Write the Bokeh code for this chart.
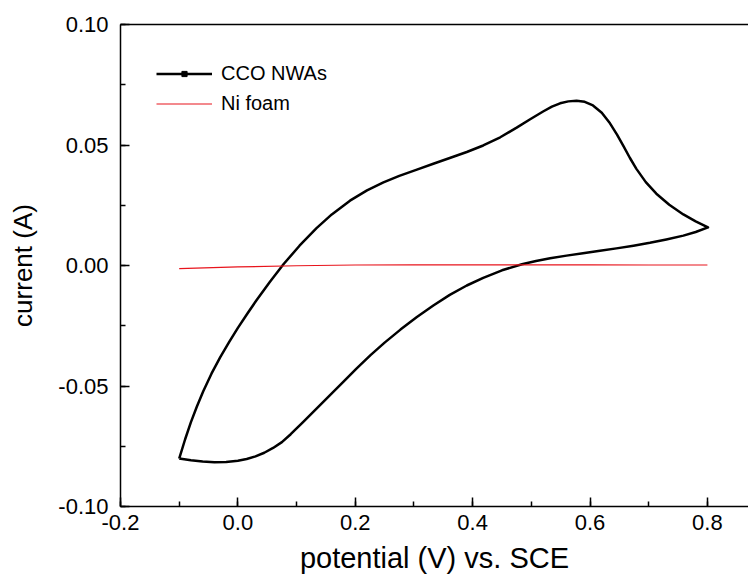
from bokeh.plotting import figure
from bokeh.models import (Range1d, SingleIntervalTicker, FixedTicker, LinearAxis, Legend, LegendItem,
                          ColumnDataSource, NumeralTickFormatter, CDSView, IndexFilter)
from bokeh.embed import file_html
from bokeh.resources import INLINE

# CCO NWAs cyclic voltammogram: forward (anodic) scan, -0.1 V -> 0.8 V
cco_fwd_x = [-0.100, -0.090, -0.080, -0.070, -0.059, -0.045, -0.030, -0.015, 0.000, 0.016, 0.032,
             0.055, 0.078, 0.105, 0.134, 0.160, 0.191, 0.220, 0.248, 0.275, 0.305, 0.333, 0.361,
             0.390, 0.418, 0.447, 0.475, 0.498, 0.520, 0.535, 0.549, 0.563, 0.577, 0.591, 0.605,
             0.620, 0.634, 0.646, 0.657, 0.668, 0.679, 0.695, 0.713, 0.735, 0.759, 0.780, 0.801]
cco_fwd_y = [-0.0801, -0.0722, -0.0650, -0.0586, -0.0522, -0.0449, -0.0380, -0.0318, -0.0259,
             -0.0200, -0.0143, -0.0066, 0.0006, 0.0082, 0.0155, 0.0212, 0.0269, 0.0312, 0.0345,
             0.0372, 0.0398, 0.0422, 0.0446, 0.0471, 0.0498, 0.0532, 0.0572, 0.0607, 0.0639,
             0.0659, 0.0673, 0.0681, 0.0684, 0.0679, 0.0664, 0.0634, 0.0590, 0.0543, 0.0495,
             0.0446, 0.0401, 0.0346, 0.0298, 0.0252, 0.0212, 0.0183, 0.0158]
# reverse (cathodic) scan, 0.8 V -> -0.1 V
cco_rev_x = [0.780, 0.759, 0.730, 0.702, 0.674, 0.645, 0.617, 0.588, 0.560, 0.532, 0.508, 0.484,
             0.450, 0.418, 0.390, 0.361, 0.333, 0.305, 0.277, 0.250, 0.226, 0.202, 0.180, 0.157,
             0.134, 0.111, 0.090, 0.075, 0.060, 0.045, 0.030, 0.015, 0.000, -0.020, -0.040,
             -0.060, -0.080, -0.100]
cco_rev_y = [0.0139, 0.0124, 0.0108, 0.0094, 0.0082, 0.0071, 0.0061, 0.0051, 0.0041, 0.0030,
             0.0019, 0.0005, -0.0020, -0.0051, -0.0083, -0.0122, -0.0166, -0.0214, -0.0266,
             -0.0320, -0.0372, -0.0428, -0.0482, -0.0538, -0.0594, -0.0650, -0.0700, -0.0733,
             -0.0757, -0.0777, -0.0792, -0.0803, -0.0810, -0.0815, -0.0816, -0.0813, -0.0808,
             -0.0801]

# Ni foam
ni_x = [-0.1, 0.0, 0.1, 0.2, 0.3, 0.4, 0.5, 0.6, 0.7, 0.8]
ni_y = [-0.0013, -0.0006, -0.0001, 0.0002, 0.0003, 0.0003, 0.0003, 0.0003, 0.0002, 0.0002]

x_ticks = [-0.2, 0.0, 0.2, 0.4, 0.6, 0.8]
y_ticks = [-0.10, -0.05, 0.00, 0.05, 0.10]

FONT = "Liberation Sans"

p = figure(width=748, height=577, x_range=Range1d(-0.2, 0.870), y_range=Range1d(-0.10, 0.10),
           output_backend="svg", toolbar_location=None,
           min_border_left=120, min_border_right=0, min_border_top=24, min_border_bottom=71)
p.outline_line_color = None
p.xgrid.visible = False
p.ygrid.visible = False
p.background_fill_color = "white"
p.border_fill_color = "white"

xa = p.xaxis[0]
xa.ticker = SingleIntervalTicker(interval=0.2, num_minor_ticks=2)
xa.formatter = NumeralTickFormatter(format="0.0")
ya = p.yaxis[0]
ya.ticker = SingleIntervalTicker(interval=0.05, num_minor_ticks=2)
ya.formatter = NumeralTickFormatter(format="0.00")

for ax in (xa, ya):
    ax.axis_line_width = 1.5
    ax.axis_line_color = "black"
    ax.major_tick_in = 9
    ax.major_tick_out = 0
    ax.minor_tick_in = 5
    ax.minor_tick_out = 0
    ax.major_tick_line_width = 1.5
    ax.minor_tick_line_width = 1.5
    ax.major_tick_line_color = "black"
    ax.minor_tick_line_color = "black"
    ax.major_label_text_font = FONT
    ax.major_label_text_font_size = "22px"
    ax.major_label_text_color = "black"
    ax.axis_label_text_font = FONT
    ax.axis_label_text_font_style = "normal"
    ax.axis_label_text_color = "black"

xa.axis_label = "potential (V) vs. SCE"
ya.axis_label = "current (A)"
xa.axis_label_text_font_size = "29px"
ya.axis_label_text_font_size = "26px"
xa.major_label_standoff = 8
xa.axis_label_standoff = 9
ya.major_label_standoff = 12
ya.axis_label_standoff = 17

top = LinearAxis(ticker=FixedTicker(ticks=[]), major_tick_line_color=None,
                 minor_tick_line_color=None, major_tick_out=0, major_label_standoff=0,
                 axis_line_width=1.5, axis_line_color="black")
p.add_layout(top, "above")

cco_src = ColumnDataSource(data=dict(x=cco_fwd_x + cco_rev_x, y=cco_fwd_y + cco_rev_y))
r_cco = p.line("x", "y", source=cco_src, line_color="black", line_width=2.5, line_join="round")
# symbol renderer used only for the legend's line+symbol sample (zero size on the plot)
r_mark = p.scatter("x", "y", source=cco_src, view=CDSView(filter=IndexFilter(indices=[0])),
                   marker="square", size=0, color="black")
ni_src = ColumnDataSource(data=dict(x=ni_x, y=ni_y))
r_ni = p.line("x", "y", source=ni_src, line_color="#e8141c", line_width=1.2)

legend = Legend(items=[LegendItem(label="CCO NWAs", renderers=[r_cco, r_mark]),
                       LegendItem(label="Ni foam", renderers=[r_ni])],
                location="top_left", margin=36, padding=5, glyph_width=56,
                glyph_height=13, label_height=26, spacing=4, label_standoff=9,
                border_line_color=None, background_fill_alpha=0,
                label_text_font=FONT, label_text_font_size="20px", label_text_color="black")
p.add_layout(legend)

open("out.html", "w").write(file_html(p, INLINE))
